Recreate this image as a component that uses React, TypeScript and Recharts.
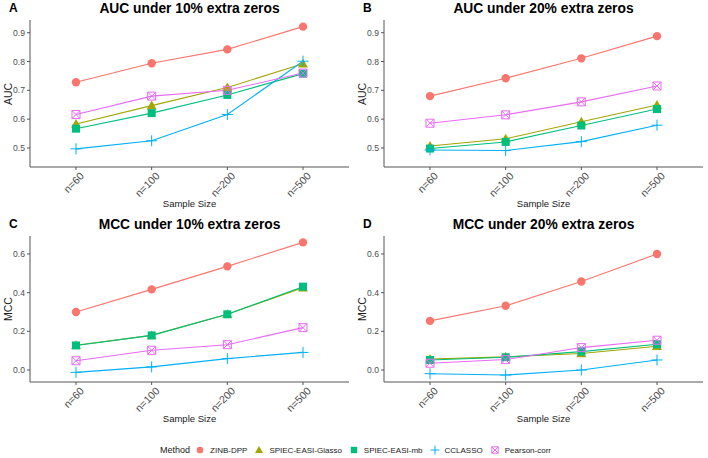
import React from "react";
import { LineChart, Line, XAxis, YAxis } from "recharts";

/* ---------- data ---------- */
const categories = ["n=60", "n=100", "n=200", "n=500"];
const methods = ["ZINB-DPP", "SPIEC-EASI-Glasso", "SPIEC-EASI-mb", "CCLASSO", "Pearson-corr"];
const colors = ["#F8766D", "#A3A500", "#00BF7D", "#00B0F6", "#E76BF3"];
const shapes = ["circle", "triangle", "square", "plus", "boxcross"];

// one row per method, in the order of `methods`
const auc10 = [
  [0.728, 0.794, 0.842, 0.921],
  [0.583, 0.647, 0.71, 0.792],
  [0.567, 0.621, 0.684, 0.758],
  [0.497, 0.525, 0.616, 0.801],
  [0.616, 0.68, 0.7, 0.76],
];
const auc20 = [
  [0.68, 0.742, 0.811, 0.888],
  [0.507, 0.532, 0.591, 0.649],
  [0.498, 0.521, 0.578, 0.635],
  [0.493, 0.491, 0.522, 0.579],
  [0.586, 0.615, 0.66, 0.715],
];
const mcc10 = [
  [0.3, 0.417, 0.536, 0.66],
  [0.128, 0.179, 0.288, 0.426],
  [0.127, 0.179, 0.288, 0.431],
  [-0.012, 0.016, 0.059, 0.091],
  [0.048, 0.102, 0.131, 0.219],
];
const mcc20 = [
  [0.254, 0.332, 0.458, 0.6],
  [0.057, 0.068, 0.085, 0.123],
  [0.052, 0.066, 0.095, 0.133],
  [-0.019, -0.026, 0.0, 0.052],
  [0.035, 0.054, 0.116, 0.154],
];

const aucTicks = [0.5, 0.6, 0.7, 0.8, 0.9];
const mccTicks = [0, 0.2, 0.4, 0.6];

const FONT = "'Liberation Sans', Arial, Helvetica, sans-serif";
const TICK_COLOR = "#4d4d4d";
const TEXT_COLOR = "#1a1a1a";

/* ---------- panel layout ---------- */
const panels = [
  { letter: "A", title: "AUC under 10% extra zeros", yLabel: "AUC", values: auc10, domain: [0.434, 0.944], ticks: aucTicks, left: 0, top: 0, marginTop: 20, plotH: 147 },
  { letter: "B", title: "AUC under 20% extra zeros", yLabel: "AUC", values: auc20, domain: [0.434, 0.944], ticks: aucTicks, left: 354, top: 0, marginTop: 20, plotH: 147 },
  { letter: "C", title: "MCC under 10% extra zeros", yLabel: "MCC", values: mcc10, domain: [-0.062, 0.693], ticks: mccTicks, left: 0, top: 210, marginTop: 26, plotH: 146 },
  { letter: "D", title: "MCC under 20% extra zeros", yLabel: "MCC", values: mcc20, domain: [-0.062, 0.693], ticks: mccTicks, left: 354, top: 210, marginTop: 26, plotH: 146 },
];

/* ---------- point shapes ---------- */
const Shape = ({ kind, cx, cy, color, s = 1 }: { kind: string; cx: number; cy: number; color: string; s?: number }) => {
  if (kind === "circle") return <circle cx={cx} cy={cy} r={4.2 * s} fill={color} />;
  if (kind === "triangle")
    return (
      <polygon
        points={`${cx},${cy - 5 * s} ${cx + 5 * s},${cy + 3.8 * s} ${cx - 5 * s},${cy + 3.8 * s}`}
        fill={color}
      />
    );
  if (kind === "square") return <rect x={cx - 4 * s} y={cy - 4 * s} width={8 * s} height={8 * s} fill={color} />;
  const h = 5.5 * s;
  if (kind === "plus")
    return <path d={`M${cx - h},${cy}H${cx + h}M${cx},${cy - h}V${cy + h}`} stroke={color} strokeWidth={1} fill="none" />;
  const b = 4 * s;
  return (
    <path
      d={`M${cx - b},${cy - b}H${cx + b}V${cy + b}H${cx - b}ZM${cx - b},${cy - b}L${cx + b},${cy + b}M${cx + b},${cy - b}L${cx - b},${cy + b}`}
      stroke={color}
      strokeWidth={1}
      fill="none"
    />
  );
};

const XTick = (props: any) => {
  const { x, y, payload } = props;
  return (
    <g transform={`translate(${x + 3},${y - 1})`}>
      <text transform="rotate(-45)" textAnchor="end" dy={8} fontSize={10.5} fill={TICK_COLOR} fontFamily={FONT}>
        {payload.value}
      </text>
    </g>
  );
};

const Panel = ({ p }: { p: (typeof panels)[number] }) => {
  const rows = categories.map((c, i) => {
    const row: Record<string, string | number> = { cat: c };
    methods.forEach((m, j) => (row[m] = p.values[j][i]));
    return row;
  });
  const height = p.marginTop + p.plotH + 48;
  return (
    <div style={{ position: "absolute", left: p.left, top: p.top, width: 354, height }}>
      <LineChart width={354} height={height} data={rows} margin={{ top: p.marginTop, right: 5, left: 0, bottom: 0 }}>
        <XAxis
          dataKey="cat"
          height={48}
          padding={{ left: 46, right: 46 }}
          stroke="#555"
          tickSize={3}
          tickLine={{ stroke: "#555" }}
          tick={<XTick />}
          interval={0}
          label={{ value: "Sample Size", position: "insideBottom", offset: 8, fontSize: 9.5, fill: TEXT_COLOR, fontFamily: FONT }}
        />
        <YAxis
          type="number"
          width={30}
          domain={p.domain}
          ticks={p.ticks}
          allowDataOverflow
          stroke="#555"
          tickSize={3}
          tickFormatter={(v: number) => v.toFixed(1)}
          tick={{ fontSize: 8.6, fill: TICK_COLOR, fontFamily: FONT }}
        />
        {methods.map((m, j) => (
          <Line
            key={m}
            dataKey={m}
            stroke={colors[j]}
            strokeWidth={1.1}
            isAnimationActive={false}
            dot={(d: any) => <Shape key={`${m}-${d.index}`} kind={shapes[j]} cx={d.cx} cy={d.cy} color={colors[j]} />}
            activeDot={false}
          />
        ))}
      </LineChart>
      <div
        style={{
          position: "absolute",
          left: 8 - 20,
          top: p.marginTop + p.plotH / 2 - 6,
          width: 40,
          height: 12,
          lineHeight: "12px",
          textAlign: "center",
          transform: "rotate(-90deg)",
          fontSize: 10.5,
          color: TEXT_COLOR,
          fontFamily: FONT,
        }}
      >
        {p.yLabel}
      </div>
      <div style={{ position: "absolute", left: 9, top: p.marginTop - 19, fontSize: 12, fontWeight: 700, fontFamily: FONT }}>
        {p.letter}
      </div>
      <div
        style={{
          position: "absolute",
          left: 30,
          width: 319,
          top: p.marginTop - 19,
          textAlign: "center",
          fontSize: 13.8,
          fontWeight: 700,
          fontFamily: FONT,
        }}
      >
        {p.title}
      </div>
    </div>
  );
};

const Legend = () => (
  <div
    style={{
      position: "absolute",
      top: 442,
      left: 160,
      height: 16,
      display: "flex",
      alignItems: "center",
      fontFamily: FONT,
      fontSize: 8,
      color: TEXT_COLOR,
      whiteSpace: "nowrap",
    }}
  >
    <span style={{ fontSize: 9 }}>Method</span>
    {methods.map((m, j) => (
      <span key={m} style={{ display: "flex", alignItems: "center", marginLeft: j === 0 ? 5 : 7 }}>
        <svg width={10} height={16}>
          <Shape kind={shapes[j]} cx={5} cy={8} color={colors[j]} s={0.8} />
        </svg>
        <span style={{ marginLeft: 5 }}>{m}</span>
      </span>
    ))}
  </div>
);

export default function App() {
  return (
    <div style={{ position: "absolute", left: 0, top: 0, width: 708, height: 458, background: "#fff", overflow: "hidden" }}>
      {panels.map((p) => (
        <Panel key={p.letter} p={p} />
      ))}
      <Legend />
    </div>
  );
}
